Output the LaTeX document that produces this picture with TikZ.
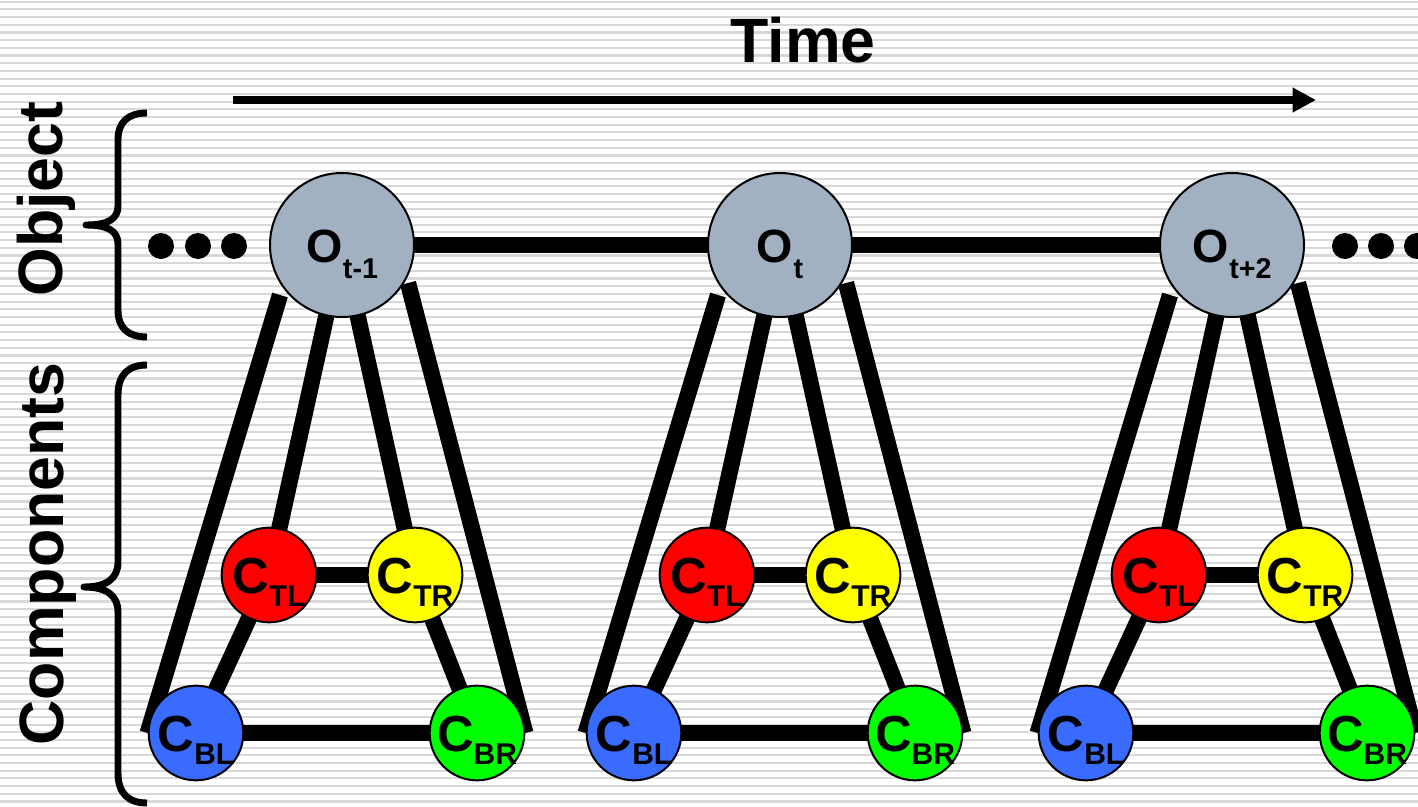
\documentclass[tikz,border=0pt]{standalone}
\usepackage{fontspec}
\setmainfont{Liberation Sans}
\usetikzlibrary{arrows.meta,calc}
\pgfdeclarelayer{stripes}
\pgfdeclarelayer{wires}
\pgfsetlayers{stripes,wires,main}
\definecolor{ogray}{HTML}{A2B1C2}
\definecolor{cred}{HTML}{FF0000}
\definecolor{cyel}{HTML}{FFFF00}
\definecolor{cblue}{HTML}{3A6BFF}
\definecolor{cgreen}{HTML}{00FF00}
\definecolor{stripecol}{HTML}{D8D8D8}
\newcommand\olab[2]{{\fontsize{35}{35}\selectfont #1}\kern0.5pt\raisebox{-12pt}{\fontsize{21.5}{21.5}\selectfont #2}}
\newcommand\clab[1]{{\fontsize{38}{38}\selectfont C}\raisebox{-9.75pt}{\fontsize{22.5}{22.5}\selectfont #1}}
\tikzset{
  onode/.style={circle, draw=black, line width=1.5pt, fill=ogray, minimum size=108pt,
    inner sep=0pt, text height=25.5pt, text depth=0pt, font=\bfseries},
  cnode/.style={circle, draw=black, line width=1.5pt, minimum size=71pt,
    inner sep=0pt, text height=27pt, text depth=0pt, font=\bfseries},
  wire/.style={line width=12.2pt},
  bracepath/.style={line width=5.2pt, line join=round},
  stripeline/.style={line width=1.6pt, draw=stripecol},
  bigtext/.style={font=\bfseries\fontsize{47}{50}\selectfont, inner sep=0pt},
  dotmark/.style={fill=black}
}
\begin{document}
\begin{tikzpicture}[x=0.75pt,y=-0.75pt]
\useasboundingbox (0,0) rectangle (1418,807);
\begin{pgfonlayer}{stripes}
  \fill[white] (0,0) rectangle (1418,807);
  \foreach \i in {0,...,104} \draw[stripeline] (0,1.7+\i*7.69) -- (1418,1.7+\i*7.69);
\end{pgfonlayer}

% titles
\node[bigtext, anchor=base] (time) at (803,62) {Time};
\node[bigtext, rotate=90, anchor=base] (obj) at (62,199) {Object};
\node[bigtext, rotate=90, anchor=base] (comp) at (63,554) {Components};

% time arrow
\coordinate (ta) at (233,100);
\coordinate (tb) at (1316,100);
\draw[line width=6.2pt, -{Triangle[length=17.5pt,width=17.5pt]}] (ta) -- (tb);

% braces
\draw[bracepath] (147,113) .. controls (128,113) and (118,122) .. (118,140) -- (118,206)
  .. controls (118,219) and (108,225) .. (86,225)
  .. controls (108,225) and (118,231) .. (118,244) -- (118,310)
  .. controls (118,328) and (128,337) .. (147,337);
\draw[bracepath] (147,365) .. controls (128,365) and (118,375) .. (118,395) -- (118,562)
  .. controls (118,579) and (106,587) .. (84,587)
  .. controls (106,587) and (118,595) .. (118,612) -- (118,773)
  .. controls (118,793) and (128,803) .. (147,803);

% ellipsis dots
\foreach \dx in {161,198,234,1345,1381,1417} \fill[dotmark] (\dx,246) circle (13);

% groups
\foreach \g/\x/\sub in {a/342/{t-1}, b/780/{t}, c/1232/{t+2}} {
  \node[onode] (O\g) at (\x,245) {\olab{O}{\sub}};
  \node[cnode, fill=cred] (TL\g) at (\x-73,575) {\clab{TL}};
  \node[cnode, fill=cyel] (TR\g) at (\x+73,575) {\clab{TR}};
  \node[cnode, fill=cblue] (BL\g) at (\x-146,733) {\clab{BL}};
  \node[cnode, fill=cgreen] (BR\g) at (\x+135,733) {\clab{BR}};
  \coordinate (OL\g) at (\x-62,295);
  \coordinate (OR\g) at (\x+66,283);
  \begin{pgfonlayer}{wires}
    \draw[wire] (O\g.center) -- (TL\g.center);
    \draw[wire] (O\g.center) -- (TR\g.center);
    \draw[wire] (OL\g) -- (BL\g.west);
    \draw[wire] (OR\g) -- (BR\g.east);
    \draw[wire] (TL\g.center) -- (TR\g.center);
    \draw[wire] (TL\g.center) -- (BL\g.center);
    \draw[wire] (TR\g.center) -- (BR\g.center);
    \draw[wire] (BL\g.center) -- (BR\g.center);
  \end{pgfonlayer}
}
\begin{pgfonlayer}{wires}
  \draw[wire] (Oa.center) -- (Ob.center);
  \draw[wire] (Ob.center) -- (Oc.center);
\end{pgfonlayer}
\end{tikzpicture}
\end{document}
